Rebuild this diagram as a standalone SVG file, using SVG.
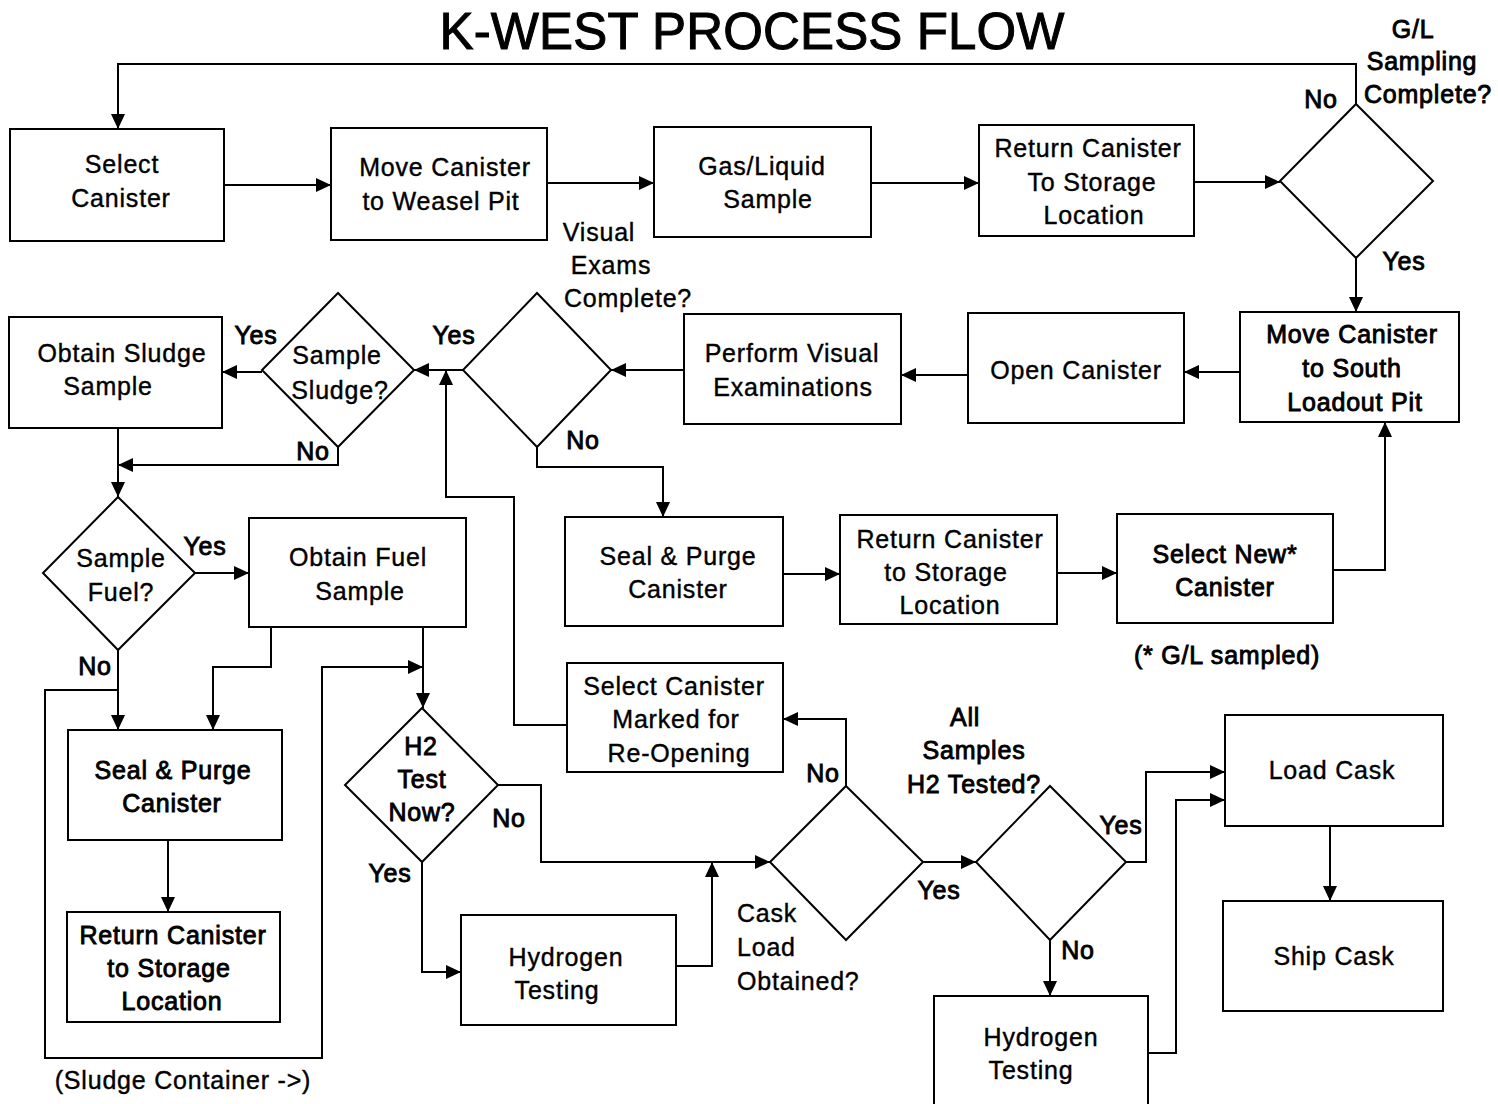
<svg xmlns="http://www.w3.org/2000/svg" width="1498" height="1104" viewBox="0 0 1498 1104">
<defs>
<marker id="ah" markerUnits="userSpaceOnUse" markerWidth="16" markerHeight="14" refX="15" refY="7" orient="auto">
<path d="M0,0 L15,7 L0,14 z" fill="#000"/>
</marker>
<style>
text{font-family:"Liberation Sans",Arial,sans-serif;font-size:25px;fill:#000;stroke:#000;stroke-width:0.4px;text-anchor:middle;letter-spacing:0.8px}
.t{font-size:51px;letter-spacing:0;stroke-width:1px}
.l{text-anchor:start}
.b{stroke-width:0.9px}
.n rect,.n polygon{fill:#fff;stroke:#000;stroke-width:2}
#connectors path{fill:none;stroke:#000;stroke-width:2}
#connectors .a{marker-end:url(#ah)}
</style>
</defs>
<rect width="1498" height="1104" fill="#fff"/>
<text class="t" x="752" y="49" textLength="625">K-WEST PROCESS FLOW</text>

<g id="connectors">
<path class="a" d="M1356,104 V64 H118 V129"/>
<path class="a" d="M224,185 H331"/>
<path class="a" d="M547,183 H654"/>
<path class="a" d="M871,183 H979"/>
<path class="a" d="M1194,182 H1280"/>
<path class="a" d="M1356,258 V312"/>
<path class="a" d="M1240,372 H1184"/>
<path class="a" d="M968,375 H901"/>
<path class="a" d="M684,370 H611"/>
<path class="a" d="M463,370 H414"/>
<path class="a" d="M567,725 H514 V497 H446 V370"/>
<path class="a" d="M262,372 H222"/>
<path class="a" d="M338,447 V465 H118"/>
<path class="a" d="M118,428 V497"/>
<path class="a" d="M195,573 H249"/>
<path class="a" d="M118,650 V730"/>
<path class="a" d="M118,690 H45 V1058 H322 V667 H423"/>
<path class="a" d="M423,627 V708"/>
<path class="a" d="M271,627 V667 H213 V730"/>
<path class="a" d="M168,840 V912"/>
<path class="a" d="M498,785 H541 V862 H770"/>
<path class="a" d="M422,862 V972 H461"/>
<path class="a" d="M676,966 H712 V862"/>
<path class="a" d="M846,786 V719 H783"/>
<path class="a" d="M923,862 H976"/>
<path class="a" d="M1126,862 H1146 V772 H1225"/>
<path class="a" d="M1050,940 V996"/>
<path class="a" d="M1148,1053 H1176 V800 H1225"/>
<path class="a" d="M1330,826 V901"/>
<path class="a" d="M537,447 V467 H663 V517"/>
<path class="a" d="M783,574 H840"/>
<path class="a" d="M1057,573 H1117"/>
<path class="a" d="M1333,570 H1385 V422"/>
</g>

<g id="n-select" class="n"><rect x="10" y="129" width="214" height="112"/><text x="122" y="173">Select</text><text x="121" y="207">Canister</text></g>
<g id="n-move-weasel" class="n"><rect x="331" y="128" width="216" height="112"/><text x="445" y="176">Move Canister</text><text x="441" y="210">to Weasel Pit</text></g>
<g id="n-gas" class="n"><rect x="654" y="127" width="217" height="110"/><text x="762" y="175">Gas/Liquid</text><text x="768" y="208">Sample</text></g>
<g id="n-return1" class="n"><rect x="979" y="125" width="215" height="111"/><text x="1088" y="157">Return Canister</text><text x="1092" y="191">To Storage</text><text x="1094" y="224">Location</text></g>
<g id="n-gl" class="n"><polygon points="1356,104 1433,181 1356,258 1280,181"/></g>
<g id="n-move-south" class="n"><rect x="1240" y="312" width="219" height="110"/><text class="b" x="1352" y="343">Move Canister</text><text class="b" x="1352" y="377">to South</text><text class="b" x="1355" y="411">Loadout Pit</text></g>
<g id="n-open" class="n"><rect x="968" y="313" width="216" height="110"/><text x="1076" y="379">Open Canister</text></g>
<g id="n-perform" class="n"><rect x="684" y="314" width="217" height="110"/><text x="792" y="362">Perform Visual</text><text x="793" y="396">Examinations</text></g>
<g id="n-visual" class="n"><polygon points="537,293 611,370 537,447 463,370"/></g>
<g id="n-sludge-q" class="n"><polygon points="338,293 414,370 338,447 262,370"/><text x="337" y="364">Sample</text><text x="340" y="399">Sludge?</text></g>
<g id="n-obtain-sludge" class="n"><rect x="9" y="317" width="213" height="111"/><text x="122" y="362">Obtain Sludge</text><text x="108" y="395">Sample</text></g>
<g id="n-fuel-q" class="n"><polygon points="118,497 195,573 118,650 43,573"/><text x="121" y="567">Sample</text><text x="121" y="601">Fuel?</text></g>
<g id="n-obtain-fuel" class="n"><rect x="249" y="518" width="217" height="109"/><text x="358" y="566">Obtain Fuel</text><text x="360" y="600">Sample</text></g>
<g id="n-seal2" class="n"><rect x="565" y="517" width="218" height="109"/><text x="678" y="565">Seal &amp; Purge</text><text x="678" y="598">Canister</text></g>
<g id="n-return2" class="n"><rect x="840" y="515" width="217" height="109"/><text x="950" y="548">Return Canister</text><text x="946" y="581">to Storage</text><text x="950" y="614">Location</text></g>
<g id="n-selectnew" class="n"><rect x="1117" y="514" width="216" height="109"/><text class="b" x="1225" y="563">Select New*</text><text class="b" x="1225" y="596">Canister</text></g>
<g id="n-marked" class="n"><rect x="567" y="663" width="216" height="109"/><text x="674" y="695">Select Canister</text><text x="676" y="728">Marked for</text><text x="679" y="762">Re-Opening</text></g>
<g id="n-h2q" class="n"><polygon points="422,708 498,785 422,862 345,785"/><text class="b" x="421" y="755">H2</text><text class="b" x="422" y="788">Test</text><text class="b" x="422" y="821">Now?</text></g>
<g id="n-seal1" class="n"><rect x="68" y="730" width="214" height="110"/><text class="b" x="173" y="779">Seal &amp; Purge</text><text class="b" x="172" y="812">Canister</text></g>
<g id="n-return3" class="n"><rect x="67" y="912" width="213" height="110"/><text class="b" x="173" y="944">Return Canister</text><text class="b" x="169" y="977">to Storage</text><text class="b" x="172" y="1010">Location</text></g>
<g id="n-hyd1" class="n"><rect x="461" y="915" width="215" height="110"/><text x="566" y="966">Hydrogen</text><text x="557" y="999">Testing</text></g>
<g id="n-cask-q" class="n"><polygon points="846,786 923,862 846,940 770,862"/></g>
<g id="n-all-q" class="n"><polygon points="1050,786 1126,862 1050,940 976,862"/></g>
<g id="n-hyd2" class="n"><rect x="934" y="996" width="214" height="110"/><text x="1041" y="1046">Hydrogen</text><text x="1031" y="1079">Testing</text></g>
<g id="n-load" class="n"><rect x="1225" y="715" width="218" height="111"/><text x="1332" y="779">Load Cask</text></g>
<g id="n-ship" class="n"><rect x="1223" y="901" width="220" height="110"/><text x="1334" y="965">Ship Cask</text></g>

<g id="labels">
<text class="b" x="1413" y="38">G/L</text><text class="b" x="1422" y="70">Sampling</text><text class="b" x="1428" y="103">Complete?</text>
<text class="b" x="1321" y="108">No</text><text class="b" x="1404" y="270">Yes</text>
<text x="599" y="241">Visual</text><text x="611" y="274">Exams</text><text x="628" y="307">Complete?</text>
<text class="b" x="454" y="344">Yes</text><text class="b" x="583" y="449">No</text>
<text class="b" x="256" y="344">Yes</text><text class="b" x="313" y="460">No</text>
<text class="b" x="205" y="555">Yes</text><text class="b" x="95" y="675">No</text>
<text class="b" x="1227" y="664">(* G/L sampled)</text>
<text class="b" x="965" y="726">All</text><text class="b" x="974" y="759">Samples</text><text class="b" x="974" y="793">H2 Tested?</text>
<text class="b" x="823" y="782">No</text>
<text class="b" x="509" y="827">No</text><text class="b" x="390" y="882">Yes</text>
<text class="l" x="737" y="922">Cask</text><text class="l" x="737" y="956">Load</text><text class="l" x="737" y="990">Obtained?</text>
<text class="b" x="939" y="899">Yes</text>
<text class="b" x="1121" y="834">Yes</text><text class="b" x="1078" y="959">No</text>
<text x="183" y="1089">(Sludge Container -&gt;)</text>
</g>
</svg>
